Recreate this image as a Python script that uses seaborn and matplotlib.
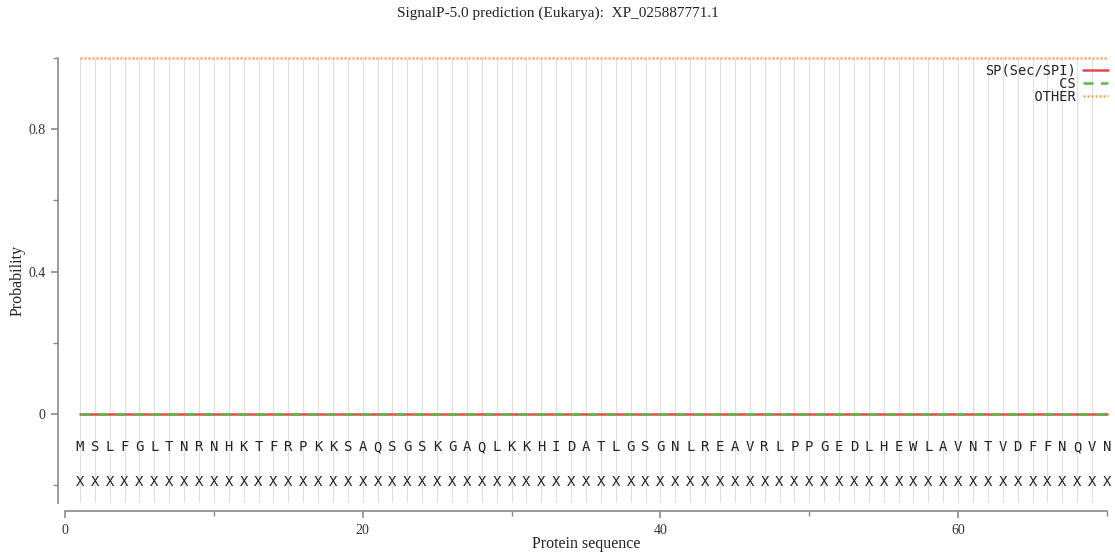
#%% Preparations
import pandas as pd
import matplotlib.pyplot as plt
import seaborn as sns
from matplotlib.ticker import MultipleLocator

#%% data
sequence = list("MSLFGLTNRNHKTFRPKKSAQSGSKGAQLKKHIDATLGSGNLREAVRLPPGEDLHEWLAVNTVDFFNQVN")
positions = list(range(1, len(sequence) + 1))
sp_prob = [0.0] * len(sequence)
cs_prob = [0.0] * len(sequence)
other_prob = [1.0] * len(sequence)
cs_marks = ["X"] * len(sequence)

title = "SignalP-5.0 prediction (Eukarya):  XP_025887771.1"

df = pd.DataFrame({"pos": positions, "SP": sp_prob, "CS": cs_prob, "OTHER": other_prob})

#%% Plot
sns.set_style("white")
plt.rcParams['font.family'] = ['Liberation Serif', 'DejaVu Serif']

fig = plt.figure(figsize=(11.15, 5.56), dpi=100)
ax = fig.add_axes([65 / 1115, 1 - 503 / 556, (1107 - 65) / 1115, (503 - 58) / 556])

# light vertical guides, one per residue
ax.vlines(df["pos"], -0.25, 1.0, color="#e0e0e0", lw=0.8, zorder=0)

sns.lineplot(data=df, x="pos", y="SP", ax=ax, color="#e8474f", lw=1.8,
             label="SP(Sec/SPI)")
sns.lineplot(data=df, x="pos", y="CS", ax=ax, color="#5cb848", lw=1.8,
             label="         CS")
sns.lineplot(data=df, x="pos", y="OTHER", ax=ax, color="#f7a54e", lw=1.8,
             label="      OTHER")
ax.lines[1].set_dashes([4, 3])
ax.lines[2].set_dashes([0.8, 0.8])
for ln in ax.lines:
    ln.set_clip_on(False)

# sequence letters and cleavage marks
for p, aa, m in zip(positions, sequence, cs_marks):
    ax.text(p, -0.093, aa, ha="center", va="center", family="DejaVu Sans Mono",
            fontsize=10, color="#222222")
    ax.text(p, -0.19, m, ha="center", va="center", family="DejaVu Sans Mono",
            fontsize=10, color="#222222")

ax.set_xlim(0, 70)
ax.set_ylim(-0.25, 1.0)

# gnuplot-like detached axes
for s in ["top", "right"]:
    ax.spines[s].set_visible(False)
ax.spines["left"].set_position(("outward", 5))
ax.spines["bottom"].set_position(("outward", 5.8))
for s in ["left", "bottom"]:
    ax.spines[s].set_color("#8a8a8a")
    ax.spines[s].set_linewidth(1.2)

ax.xaxis.set_major_locator(MultipleLocator(20))
ax.xaxis.set_minor_locator(MultipleLocator(10))
ax.yaxis.set_minor_locator(MultipleLocator(0.2))
ax.set_yticks([0, 0.4, 0.8])
ax.set_yticklabels(["0", "0.4", "0.8"])
ax.tick_params(which="both", direction="out", color="#8a8a8a", labelcolor="#333333",
               labelsize=10, bottom=True, left=True)
ax.tick_params(which="major", length=5, width=1.2, pad=4)
ax.tick_params(which="minor", length=3.5, width=1.0)
ax.spines["bottom"].set_bounds(0, 70)
ax.spines["left"].set_bounds(-0.25, 1.0)

ax.set_xlabel("Protein sequence", fontsize=11.5, color="#222222")
ax.set_ylabel("Probability", fontsize=11.5, color="#222222")
ax.xaxis.set_label_coords(0.5, (503 - 536) / 445)
ax.yaxis.set_label_coords((26 - 65) / 1042, 0.5)
fig.suptitle(title, y=1 - 13 / 556, va="center", fontsize=11, color="#222222")

leg = ax.legend(loc="upper right", bbox_to_anchor=(1.006, 1.0), frameon=False,
                markerfirst=False, handlelength=1.85, handletextpad=0.5,
                labelspacing=-0.05, borderaxespad=0,
                prop={"family": "DejaVu Sans Mono", "size": 9.8})
for t in leg.get_texts():
    t.set_color("#222222")

fig.savefig("out.png", dpi=100)
